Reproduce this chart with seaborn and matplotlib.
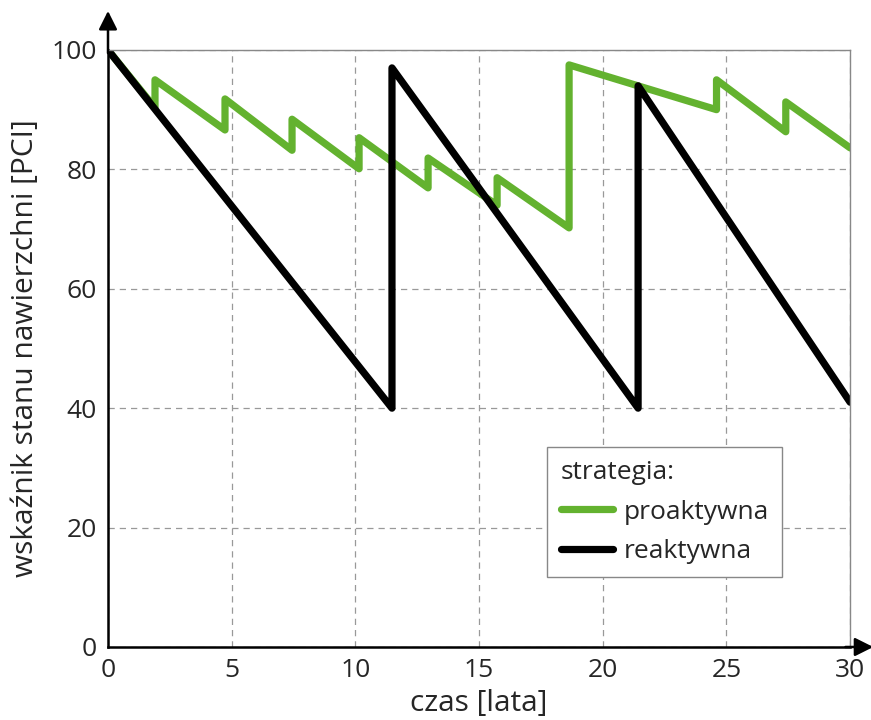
import pandas as pd
import matplotlib.pyplot as plt
import seaborn as sns

czas_pro = [0, 1.9, 1.9, 4.73, 4.73, 7.44, 7.44, 10.15, 10.15, 12.94, 12.94,
            15.73, 15.73, 18.64, 18.64, 24.6, 24.6, 27.4, 27.4, 30]
pci_pro = [100, 90.3, 95, 86.6, 91.8, 83.2, 88.4, 80.1, 85.3, 76.9, 81.9,
           74, 78.6, 70.2, 97.5, 90, 95, 86.3, 91.3, 83.6]
czas_re = [0, 11.48, 11.48, 21.43, 21.43, 30]
pci_re = [100, 40, 97, 40, 94, 41]
x_ticks = [0, 5, 10, 15, 20, 25, 30]
y_ticks = [0, 20, 40, 60, 80, 100]

sns.set_style("white")
plt.rcParams['font.family'] = ['Open Sans', 'DejaVu Sans']

fig = plt.figure(figsize=(8.71, 7.2), dpi=100)
ax = fig.add_axes([0.124, 0.1014, 0.852, 0.8292])

pro = pd.DataFrame({'czas': czas_pro, 'pci': pci_pro})
re = pd.DataFrame({'czas': czas_re, 'pci': pci_re})
sns.lineplot(data=pro, x='czas', y='pci', sort=False, estimator=None, color='#63b22f',
             lw=5.2, label='proaktywna', ax=ax, solid_joinstyle='round', solid_capstyle='round')
sns.lineplot(data=re, x='czas', y='pci', sort=False, estimator=None, color='black',
             lw=5.2, label='reaktywna', ax=ax, solid_joinstyle='round', solid_capstyle='round')

ax.set_xlim(0, 30)
ax.set_ylim(0, 100)
ax.set_xticks(x_ticks)
ax.set_yticks(y_ticks)
ax.tick_params(length=0, labelsize=19, pad=8)
ax.grid(True, ls=(0, (5, 4)), color='#999999', lw=0.9)
ax.set_xlabel('czas [lata]', fontsize=21.5, labelpad=4)
ax.set_ylabel('wskaźnik stanu nawierzchni [PCI]', fontsize=21.5, labelpad=8)

for s in ['top', 'right']:
    ax.spines[s].set_color('#888888')
    ax.spines[s].set_linewidth(1)
for s in ['left', 'bottom']:
    ax.spines[s].set_color('black')
    ax.spines[s].set_linewidth(1.8)

ax.annotate('', xy=(0, 1.07), xytext=(0, 0.99), xycoords='axes fraction',
            arrowprops=dict(arrowstyle='-|>', color='black', lw=1.8, mutation_scale=28))
ax.annotate('', xy=(1.035, 0), xytext=(0.99, 0), xycoords='axes fraction',
            arrowprops=dict(arrowstyle='-|>', color='black', lw=1.8, mutation_scale=28))

leg = ax.legend(title='strategia:', loc='upper left', bbox_to_anchor=(0.592, 0.335),
                borderaxespad=0, fontsize=19, title_fontsize=19, fancybox=False,
                edgecolor='#888888', framealpha=1, handlelength=2.0, handletextpad=0.4,
                borderpad=0.5, labelspacing=0.55)
leg._legend_box.align = 'left'
leg.get_frame().set_linewidth(1)

fig.savefig('out.png', dpi=100)
